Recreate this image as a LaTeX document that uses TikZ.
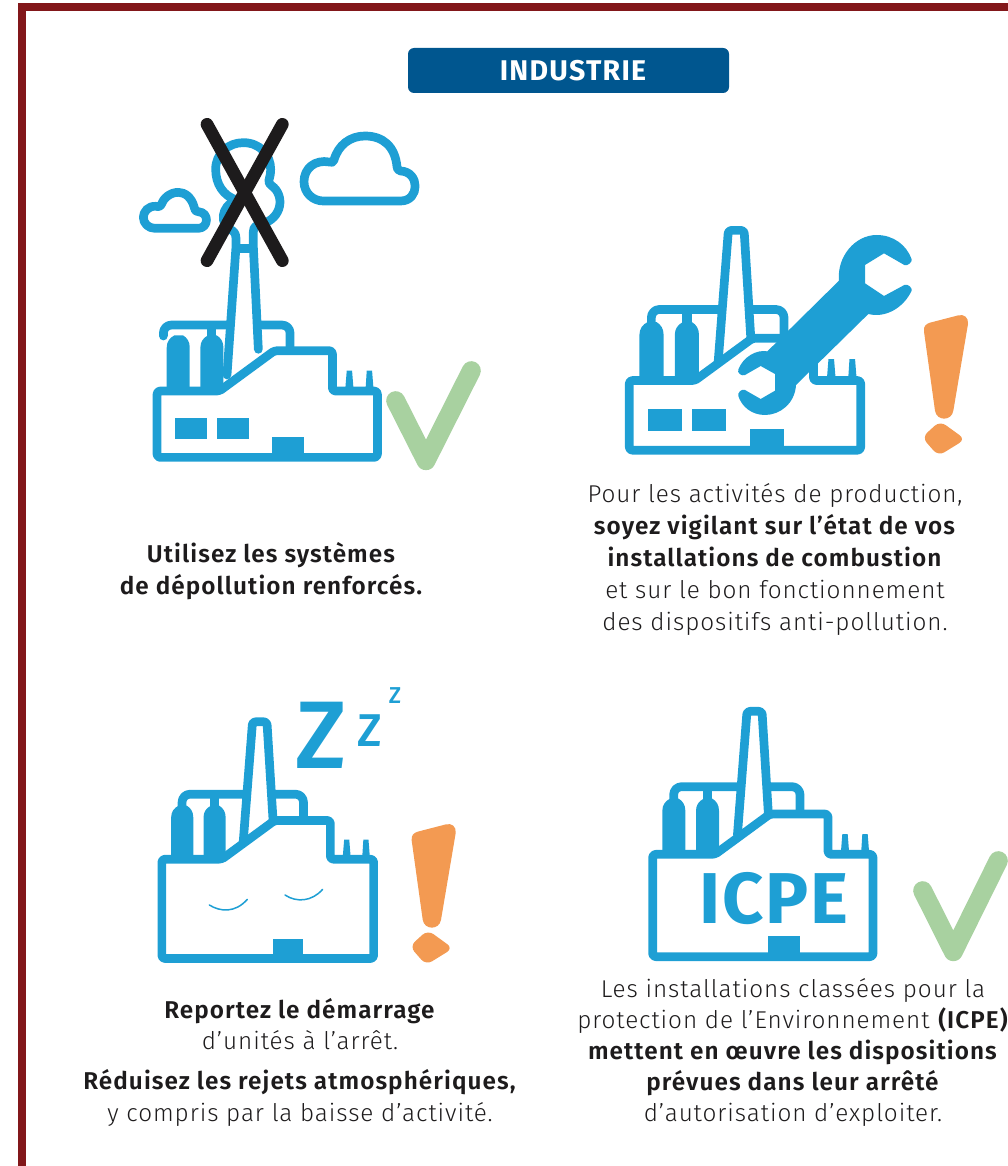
\documentclass[tikz,border=0pt]{standalone}
\usepackage{fontspec}
\setmainfont{Fira Sans Light}[LetterSpace=3.8,BoldFont={Fira Sans SemiBold},BoldFeatures={LetterSpace=4.4}]
\newfontfamily\titlefont{Fira Sans}[LetterSpace=4.5,BoldFont={Fira Sans Bold}]
\newfontfamily\iconfont{Fira Sans}[LetterSpace=2.5,BoldFont={Fira Sans Bold}]
\newfontfamily\zedfont{Fira Sans Medium}
\definecolor{fblue}{HTML}{1E9FD4}
\definecolor{frame}{HTML}{82171A}
\definecolor{titlebg}{HTML}{00568F}
\definecolor{okgreen}{HTML}{A8D1A0}
\definecolor{warn}{HTML}{F39A52}
\definecolor{crossk}{HTML}{1D1B1C}
\tikzset{
  wall/.style={draw=fblue,line width=8.7pt,line join=round,rounded corners=3pt},
  solid blue/.style={fill=fblue,draw=none},
  para/.style={align=center,inner sep=0pt,anchor=north,text=crossk},
  tick/.style={draw=okgreen,line width=19pt,line cap=round,line join=round},
  warnfill/.style={fill=warn,draw=none},
}
\newcommand{\factorybase}[1]{%
  \path[solid blue] (97,470) -- (97,332) .. controls (97,315) and (106,303) .. (120,296) -- (146,296) .. controls (158,303) and (166,315) .. (166,332) -- (166,470) -- cycle;
  \path[solid blue] (198,470) -- (198,332) .. controls (198,315) and (207,303) .. (221,296) -- (247,296) .. controls (259,303) and (267,315) .. (267,332) -- (267,470) -- cycle;
  \path[solid blue] (632,465) -- (637,402) -- (653,402) -- (658,465) -- cycle;
  \path[solid blue] (693,465) -- (697,402) -- (713,402) -- (718,465) -- cycle;
  \draw[wall] (68,463) -- (255,463) -- (420,342) -- (594,342) -- (594,463) -- (729,463) -- (729,#1) -- (68,#1) -- cycle;
  \path[solid blue] (414,#1-62) rectangle (510,#1);
}
\newcommand{\stdchimney}{%
  \draw[wall] (322,408) -- (351,34) -- (396,34) -- (415,340);
  \draw[wall,rounded corners=8pt] (131,300) -- (131,260) -- (322,260);
  \draw[wall,rounded corners=8pt] (412,260) -- (510,260) -- (510,342);
  \path[solid blue] (218,260) rectangle (246,300);
}
\newcommand{\windows}[1]{%
  \path[solid blue] (122,#1-119) rectangle (218,#1-56);
  \path[solid blue] (248,#1-119) rectangle (344,#1-56);
}
\newcommand{\warnmark}{%
  \path[warnfill] (942,335) .. controls (940,318) and (948,312) .. (960,308) -- (1045,286) .. controls (1062,282) and (1076,292) .. (1074,312) -- (1030,572) .. controls (1025,604) and (980,604) .. (975,572) -- cycle;
  \path[warnfill,rounded corners=7pt] (990,603) -- (1066,658) -- (985,708) -- (936,652) -- cycle;
}
\begin{document}
\begin{tikzpicture}[x=1pt,y=-1pt]
\useasboundingbox (0,0) rectangle (1008,1166);
% frame
\path[fill=frame] (18,3) rectangle (1008,11);
\path[fill=frame] (18,3) rectangle (26,1166);
% title
\node[fill=titlebg,rounded corners=6pt,minimum width=321pt,minimum height=45pt,inner sep=0pt,text=white,font=\titlefont\fontsize{28.5}{30}\bfseries\selectfont] (title) at (568.5,70.5) {\hspace*{9pt}INDUSTRIE};

% --- Factory 1
\begin{scope}[shift={(134.4,236.7)},x=0.33333pt,y=-0.33333pt]
  \factorybase{662}
  \windows{662}
  \draw[wall,rounded corners=8pt,line cap=round] (87,298) -- (87,265) -- (278,265);
  \draw[wall,rounded corners=8pt] (380,265) -- (467,265) -- (467,342);
  \path[solid blue] (219,265) rectangle (245,300);
\end{scope}
\begin{scope}[shift={(130,110)},x=0.33333pt,y=-0.33333pt]
  \draw[wall,line cap=round,rounded corners=0pt] (291,795) -- (318,410) -- (318,385) .. controls (318,370) and (310,362) .. (300,358) .. controls (272,345) and (268,290) .. (320,270) .. controls (280,258) and (257,222) .. (257,178) .. controls (257,130) and (295,98) .. (340,98) .. controls (390,98) and (422,135) .. (422,178) .. controls (422,190) and (420,200) .. (417,210) .. controls (415,218) and (418,222) .. (425,227) .. controls (465,255) and (458,325) .. (395,342) .. controls (380,345) and (370,350) .. (370,365) -- (370,410) -- (385,718);
  \draw[wall,rounded corners=0pt] (318,416) -- (370,416);
  \draw[wall,rounded corners=0pt] (580,273) -- (812,273) .. controls (870,273) and (870,185) .. (812,183) .. controls (803,182) and (802,176) .. (801,170) .. controls (795,110) and (760,78) .. (705,78) .. controls (660,78) and (625,105) .. (612,150) .. controls (610,158) and (604,158) .. (598,156) .. controls (555,148) and (522,175) .. (522,215) .. controls (522,250) and (550,273) .. (580,273) -- cycle;
  \draw[wall,rounded corners=0pt] (75,355) -- (205,355) .. controls (235,355) and (240,308) .. (205,305) .. controls (195,303) and (195,300) .. (193,293) .. controls (185,262) and (165,247) .. (145,247) .. controls (120,247) and (100,265) .. (93,285) .. controls (90,292) and (85,290) .. (78,289) .. controls (55,287) and (40,305) .. (40,322) .. controls (40,340) and (55,355) .. (75,355) -- cycle;
  \draw[crossk,line width=12.7pt,line cap=round] (231,43) -- (457,452);
  \draw[crossk,line width=12.7pt,line cap=round] (457,43) -- (231,452);
  \draw[tick] (797,872) -- (888,1052) -- (1024,782);
\end{scope}

% --- Factory 2
\begin{scope}[shift={(605.5,218.5)},x=0.35pt,y=-0.35pt]
  \factorybase{662}
  \windows{662}
  \stdchimney
\end{scope}
\begin{scope}[shift={(610,220)},x=0.33333pt,y=-0.33333pt]
  \path[solid blue,rounded corners=0pt] (905,118) .. controls (908,124) and (893,140) .. (883,135) -- (822,100) -- (765,135) -- (765,190) -- (822,228) -- (883,195) .. controls (893,190) and (908,204) .. (905,212) .. controls (880,265) and (825,295) .. (775,282) -- (558,495) .. controls (555,550) and (510,585) .. (465,585) .. controls (425,585) and (395,560) .. (385,528) .. controls (382,518) and (395,505) .. (405,510) -- (452,537) -- (495,512) -- (495,462) -- (452,438) -- (405,465) .. controls (395,470) and (380,458) .. (385,448) .. controls (400,410) and (440,388) .. (472,394) -- (687,182) .. controls (680,110) and (735,45) .. (800,45) .. controls (850,45) and (890,75) .. (905,118) -- cycle;
  \warnmark
\end{scope}

% --- Factory 3
\begin{scope}[shift={(140.1,710.9)},x=0.3203pt,y=-0.3203pt]
  \factorybase{773}
  \stdchimney
\end{scope}
\begin{scope}[shift={(140,680)},x=0.33333pt,y=-0.33333pt]
  \draw[fblue,line width=1.5pt,line cap=round] (208,675) .. controls (240,695) and (285,700) .. (322,658);
  \draw[fblue,line width=1.5pt,line cap=round] (435,645) .. controls (470,668) and (515,665) .. (548,628);
\end{scope}
\begin{scope}[shift={(97.7,729)},x=0.33333pt,y=-0.33333pt]
  \warnmark
\end{scope}
\node[text=fblue,inner sep=0pt,font=\zedfont\fontsize{96}{96}\selectfont] (zbig) at (321,735) {Z};
\node[text=fblue,inner sep=0pt,font=\zedfont\fontsize{46}{46}\selectfont] (zmid) at (370,731) {Z};
\node[text=fblue,inner sep=0pt,font=\zedfont\fontsize{23}{23}\selectfont] (zsmall) at (395,696) {Z};

% --- Factory 4
\begin{scope}[shift={(630,700)},x=0.33333pt,y=-0.33333pt]
  \factorybase{770}
  \stdchimney
  \draw[tick] (878,572) -- (970,755) -- (1105,482);
\end{scope}
\node[text=fblue,inner sep=0pt,font=\iconfont\fontsize{72}{72}\fontseries{sb}\selectfont] (icpe) at (774,899) {ICPE};

% --- Text
\node[para,font=\fontsize{24.3}{32}\selectfont] (ta) at (271.5,542) {\textbf{Utilisez les systèmes}\\\textbf{de dépollution renforcés.}};
\node[para,font=\fontsize{24.3}{32}\selectfont] (tb) at (775,483) {Pour les activités de production,\\\textbf{soyez vigilant sur l’état de vos}\\\textbf{installations de combustion}\\et sur le bon fonctionnement\\des dispositifs anti-pollution.};
\node[para,font=\fontsize{24.3}{31.5}\selectfont] (tc) at (300,998) {\textbf{Reportez le démarrage}\\d’unités à l’arrêt.\\[8.5pt]\textbf{Réduisez les rejets atmosphériques,}\\y compris par la baisse d’activité.};
\node[para,font=\fontsize{24.3}{31}\selectfont] (td) at (793,978) {Les installations classées pour la\\protection de l’Environnement \textbf{(ICPE)}\\\textbf{mettent en œuvre les dispositions}\\\textbf{prévues dans leur arrêté}\\d’autorisation d’exploiter.};
\end{tikzpicture}
\end{document}
